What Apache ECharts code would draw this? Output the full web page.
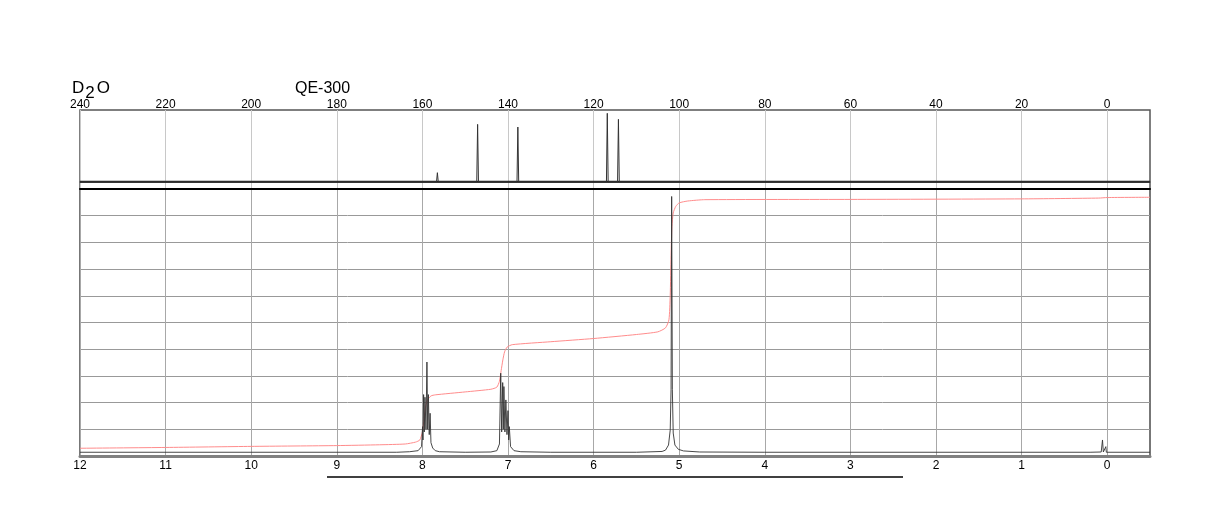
<!DOCTYPE html>
<html>
<head>
<meta charset="utf-8">
<script src="https://cdn.jsdelivr.net/npm/echarts@6/dist/echarts.min.js"></script>
<style>
html,body{margin:0;padding:0;background:#fff;}
#chart{width:1224px;height:528px;}
</style>
</head>
<body>
<div id="chart"></div>
<script>
// ---- Data ----
const c13Ticks = [240, 220, 200, 180, 160, 140, 120, 100, 80, 60, 40, 20, 0];
const h1Ticks = [12, 11, 10, 9, 8, 7, 6, 5, 4, 3, 2, 1, 0];

// 13C spectrum baseline and peaks [ppm, intensity]
const c13Baseline = [[240, 0], [-10, 0]];
const c13Spectrum = [
  [240, 0], [156.7, 0], [156.5, 12.7], [156.3, 0],
  [147.3, 0], [147.1, 80], [146.9, 0],
  [137.9, 0], [137.7, 76.3], [137.5, 0],
  [117.0, 0], [116.8, 95.4], [116.6, 0],
  [114.4, 0], [114.2, 87], [114.0, 0],
  [-10, 0]
];

// 1H spectrum [ppm, intensity]
const h1Spectrum = [
  [12.0, 0.14], [8.30, 0.14], [8.15, 0.16], [8.05, 0.2], [8.01, 0.35],
  [7.998, 1.1], [7.993, 0.6],
  [7.986, 2.3], [7.978, 0.9],
  [7.970, 2.2], [7.958, 1.0],
  [7.947, 3.52], [7.938, 1.0],
  [7.930, 2.3], [7.920, 0.8],
  [7.910, 1.6], [7.900, 0.5], [7.88, 0.3], [7.85, 0.2], [7.80, 0.16], [7.50, 0.14],
  [7.20, 0.15], [7.13, 0.2], [7.10, 0.45],
  [7.085, 3.1], [7.074, 0.9],
  [7.062, 2.75], [7.055, 1.0],
  [7.048, 2.6], [7.036, 0.9],
  [7.025, 2.1], [7.012, 0.8],
  [7.000, 1.7], [6.992, 0.6],
  [6.985, 1.1], [6.97, 0.35], [6.93, 0.2], [6.85, 0.16], [6.50, 0.14],
  [5.50, 0.14], [5.20, 0.17], [5.16, 0.22], [5.125, 0.41], [5.105, 0.97],
  [5.095, 2.5], [5.088, 9.72], [5.080, 2.5], [5.07, 0.86], [5.05, 0.41],
  [5.01, 0.25], [4.95, 0.19], [4.76, 0.15], [4.0, 0.14],
  [0.20, 0.14], [0.07, 0.15], [0.055, 0.6], [0.045, 0.15], [0.022, 0.14],
  [0.016, 0.35], [0.010, 0.14], [-0.5, 0.14]
];

// 1H integral curve [ppm, value]
const h1Integral = [
  [12, 0.29], [11, 0.32], [10, 0.36], [9, 0.39], [8.5, 0.42], [8.2, 0.45],
  [8.08, 0.52], [8.03, 0.6], [8.0, 0.9], [7.98, 1.4], [7.96, 1.9], [7.94, 2.1],
  [7.9, 2.25], [7.85, 2.29], [7.5, 2.4], [7.2, 2.5], [7.13, 2.58], [7.1, 2.8],
  [7.08, 3.2], [7.06, 3.6], [7.04, 3.9], [7.01, 4.08], [6.95, 4.17], [6.5, 4.28],
  [6.0, 4.4], [5.5, 4.55], [5.25, 4.65], [5.16, 4.8], [5.12, 5.1], [5.105, 6.0],
  [5.095, 7.5], [5.085, 8.6], [5.07, 9.1], [5.04, 9.35], [5.0, 9.48], [4.9, 9.55],
  [4.7, 9.6], [3.0, 9.61], [1.0, 9.63], [0.1, 9.66], [0.0, 9.68], [-0.5, 9.69]
];

const FONT = '"Liberation Sans", Arial, Helvetica, sans-serif';

const chart = echarts.init(document.getElementById('chart'), null, {renderer: 'canvas'});
chart.setOption({
  animation: false,
  backgroundColor: '#fff',
  title: [
    {
      text: '{a|D}{b|2}{c|O}',
      left: 67, top: 75,
      textStyle: {
        fontFamily: FONT, fontWeight: 'normal',
        rich: {
          a: {fontSize: 17, fontFamily: FONT, fontWeight: 'normal', color: '#000', verticalAlign: 'top', lineHeight: 18, padding: [0, 1, 0, 0]},
          b: {fontSize: 17, fontFamily: FONT, fontWeight: 'normal', color: '#000', verticalAlign: 'top', lineHeight: 18, padding: [5, 2, 0, 0]},
          c: {fontSize: 17, fontFamily: FONT, fontWeight: 'normal', color: '#000', verticalAlign: 'top', lineHeight: 18}
        }
      }
    },
    {
      text: 'QE-300',
      left: 290, top: 76,
      textStyle: {fontFamily: FONT, fontSize: 16, fontWeight: 'normal', color: '#000'}
    }
  ],
  grid: [
    {left: 80, right: 74, top: 110, height: 79, show: true, borderColor: '#555', borderWidth: 1.5, backgroundColor: 'transparent'},
    {left: 80, right: 74, top: 189, height: 267, show: true, borderColor: '#777', borderWidth: 2, backgroundColor: 'transparent'}
  ],
  xAxis: [
    {
      gridIndex: 0, type: 'value', min: -10, max: 240, inverse: true, position: 'top',
      axisLine: {show: true, lineStyle: {color: '#555', width: 1.5}},
      axisTick: {show: false, customValues: c13Ticks},
      axisLabel: {customValues: c13Ticks, margin: -1, fontSize: 12, fontFamily: FONT, color: '#000'},
      splitLine: {show: true, lineStyle: {color: '#c8c8c8', width: 1}}
    },
    {
      gridIndex: 1, type: 'value', min: -0.5, max: 12, inverse: true, position: 'bottom',
      axisLine: {show: true, lineStyle: {color: '#808080', width: 3}},
      axisTick: {show: false, customValues: h1Ticks},
      axisLabel: {customValues: h1Ticks, margin: 4, fontSize: 12, fontFamily: FONT, color: '#000'},
      splitLine: {show: true, lineStyle: {color: '#a8a8a8', width: 1}}
    },
    {
      gridIndex: 1, type: 'value', min: -0.5, max: 12, inverse: true, position: 'top',
      axisLine: {show: true, lineStyle: {color: '#000', width: 2}},
      axisTick: {show: false}, axisLabel: {show: false}, splitLine: {show: false}
    }
  ],
  yAxis: [
    {gridIndex: 0, type: 'value', min: -10, max: 100, show: false},
    {
      gridIndex: 1, type: 'value', min: 0, max: 10, interval: 1,
      axisLine: {show: false}, axisTick: {show: false}, axisLabel: {show: false},
      splitLine: {show: true, lineStyle: {color: '#999', width: 1}}
    }
  ],
  series: [
    {
      type: 'line', xAxisIndex: 0, yAxisIndex: 0, data: c13Baseline,
      symbol: 'none', silent: true, lineStyle: {color: '#222', width: 2}
    },
    {
      type: 'line', xAxisIndex: 0, yAxisIndex: 0, data: c13Spectrum,
      symbol: 'none', silent: true, lineStyle: {color: '#333', width: 1}
    },
    {
      type: 'line', xAxisIndex: 1, yAxisIndex: 1, data: h1Integral,
      symbol: 'none', silent: true, smooth: 0.2, lineStyle: {color: '#ff8c8c', width: 1}
    },
    {
      type: 'line', xAxisIndex: 1, yAxisIndex: 1, data: h1Spectrum,
      symbol: 'none', silent: true, lineStyle: {color: '#333', width: 0.9}
    }
  ],
  graphic: [
    {type: 'line', shape: {x1: 327, y1: 477, x2: 903, y2: 477}, style: {stroke: '#000', lineWidth: 1.5}, silent: true}
  ]
});
</script>
</body>
</html>
